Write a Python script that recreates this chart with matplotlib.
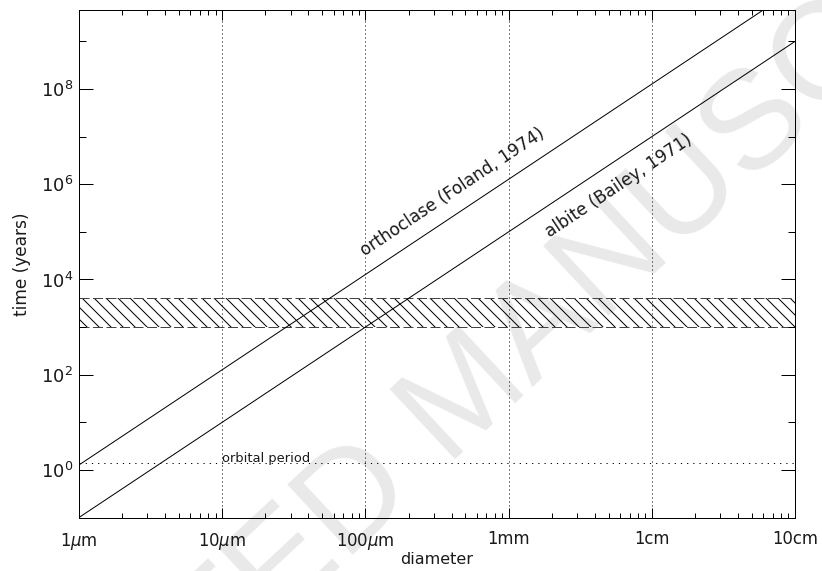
import numpy as np
import matplotlib
matplotlib.use('Agg')
import matplotlib.pyplot as plt
from matplotlib.ticker import FixedLocator, FixedFormatter, NullFormatter, LogLocator

# ---------------- data ----------------
diameter_m = [1e-6, 1e-1]
orthoclase_yr = [1.27, 1.27e10]
albite_yr = [0.1, 1.0e9]
band_low_yr = 1.0e3
band_high_yr = 4.0e3
orbital_period_yr = 1.4

x_tick_values = [1e-6, 1e-5, 1e-4, 1e-3, 1e-2, 1e-1]
x_tick_labels = ['1$\\mathit{\\mu}$m', '10$\\mathit{\\mu}$m', '100$\\mathit{\\mu}$m',
                 '1mm', '1cm', '10cm']
y_tick_values = [1e0, 1e2, 1e4, 1e6, 1e8]
y_tick_labels = ['$10^{0}$', '$10^{2}$', '$10^{4}$', '$10^{6}$', '$10^{8}$']
y_minor_values = [1e-1, 1e1, 1e3, 1e5, 1e7, 1e9]

orthoclase_label = 'orthoclase (Foland, 1974)'
albite_label = 'albite (Bailey, 1971)'
orbital_label = 'orbital period'
orthoclase_label_pos = (9.9e-5, 3.0e4)
albite_label_pos = (1.95e-3, 7.6e4)
orbital_label_pos = (1.0e-5, 1.45)

x_label = 'diameter'
y_label = 'time (years)'
watermark = 'ACCEPTED MANUSCRIPT'

# ---------------- style ----------------
DPI = 72
plt.rcParams['font.family'] = ['DejaVu Sans']
plt.rcParams['font.weight'] = 'normal'
plt.rcParams['mathtext.fontset'] = 'dejavusans'
plt.rcParams['mathtext.default'] = 'regular'
plt.rcParams['hatch.linewidth'] = 1.0
TXT = '#1a1a1a'

fig = plt.figure(figsize=(822 / DPI, 571 / DPI), dpi=DPI)
fig.patch.set_facecolor('white')

W, H = 822, 571
left_px, right_px, top_px, bottom_px = 79, 795, 10, 517.5
ax = fig.add_axes([left_px / W, (H - bottom_px) / H,
                   (right_px - left_px) / W, (bottom_px - top_px) / H])
ax.set_facecolor('none')

ax.set_xscale('log')
ax.set_yscale('log')
ax.set_xlim(1e-6, 1e-1)
ax.set_ylim(0.1, 10 ** 9.66)

# watermark behind everything
fig.text(0.570, 0.302, watermark, rotation=43, fontsize=140, color='#e9e9e9',
         ha='center', va='center', family='Liberation Sans', weight='normal',
         zorder=-5)

# grid (vertical dotted)
for xv in x_tick_values[1:-1]:
    ax.axvline(xv, color='black', lw=1, linestyle=(0, (1, 3)), zorder=1)

# orbital period line
ax.axhline(orbital_period_yr, color='black', lw=1, linestyle=(0, (1.2, 5)), zorder=1)

# hatched band
ax.axhspan(band_low_yr, band_high_yr, facecolor='none', edgecolor='black',
           hatch='\\\\', linewidth=0, zorder=1)
for yv in (band_low_yr, band_high_yr):
    ax.axhline(yv, color='#444444', lw=1, linestyle=(0, (10, 3.5)), zorder=1.5)

# lines
ax.plot(diameter_m, orthoclase_yr, color='black', lw=1, zorder=3)
ax.plot(diameter_m, albite_yr, color='black', lw=1, zorder=3)

# ticks
ax.xaxis.set_major_locator(FixedLocator(x_tick_values))
ax.xaxis.set_major_formatter(FixedFormatter(x_tick_labels))
ax.xaxis.set_minor_locator(LogLocator(base=10, subs=np.arange(2, 10)))
ax.xaxis.set_minor_formatter(NullFormatter())
ax.yaxis.set_major_locator(FixedLocator(y_tick_values))
ax.yaxis.set_major_formatter(FixedFormatter(y_tick_labels))
ax.yaxis.set_minor_locator(FixedLocator(y_minor_values))
ax.yaxis.set_minor_formatter(NullFormatter())

ax.tick_params(axis='both', which='both', direction='in', top=True, right=True,
               width=1, color='black', labelcolor=TXT)
ax.tick_params(axis='x', which='major', length=10, pad=13, labelsize=16.5)
ax.tick_params(axis='x', which='minor', length=5)
ax.tick_params(axis='y', which='major', length=14, pad=6, labelsize=18)
ax.tick_params(axis='y', which='minor', length=7)
for s in ax.spines.values():
    s.set_linewidth(1)
    s.set_color('black')

ax.set_xlabel(x_label, fontsize=16, labelpad=0, color=TXT)
ax.set_ylabel(y_label, fontsize=17, labelpad=10, color=TXT)

# rotated labels along lines
p1 = ax.transData.transform((diameter_m[0], albite_yr[0]))
p2 = ax.transData.transform((diameter_m[1], albite_yr[1]))
angle = np.degrees(np.arctan2(p2[1] - p1[1], p2[0] - p1[0]))

ax.text(*orthoclase_label_pos, orthoclase_label, rotation=angle, color=TXT,
        rotation_mode='anchor', ha='left', va='baseline', fontsize=17, zorder=4)
ax.text(*albite_label_pos, albite_label, rotation=angle, color=TXT,
        rotation_mode='anchor', ha='left', va='baseline', fontsize=17, zorder=4)
ax.text(*orbital_label_pos, orbital_label, ha='left', va='baseline', color=TXT,
        fontsize=13, zorder=4)

fig.savefig('out.png', dpi=DPI)
